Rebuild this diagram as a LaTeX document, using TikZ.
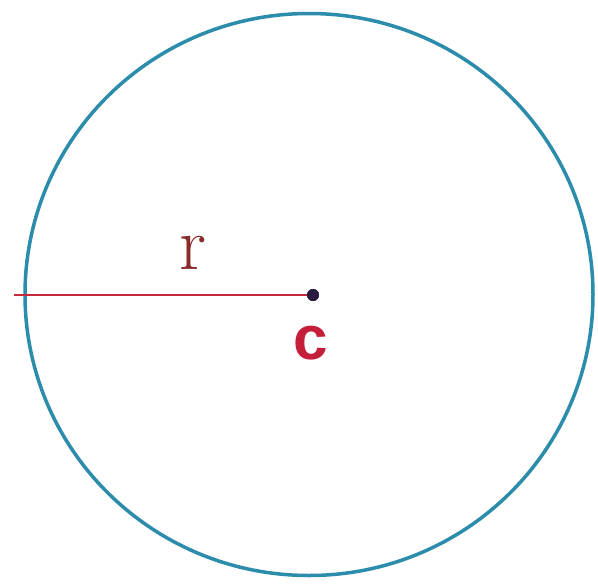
\documentclass[tikz,border=0pt]{standalone}
\usepackage{fontspec}
\newfontfamily\labelsans{Liberation Sans}
\definecolor{rim}{HTML}{2B8CAB}
\definecolor{radline}{HTML}{C8283C}
\definecolor{rlabel}{HTML}{8B2A2A}
\definecolor{clabel}{HTML}{C41E3A}
\definecolor{centerdot}{HTML}{2A1A40}
\tikzset{
  rimline/.style={draw=rim, line width=3.5pt},
  radius line/.style={draw=radline, line width=2.8pt},
  dotstyle/.style={circle, fill=centerdot, inner sep=0pt, minimum size=12pt},
  rtext/.style={text=rlabel, inner sep=0pt, font=\fontsize{76}{76}\selectfont},
  ctext/.style={text=clabel, inner sep=0pt, font=\labelsans\bfseries\fontsize{62}{62}\selectfont}
}
\begin{document}
\begin{tikzpicture}[x=1pt,y=-1pt]
\useasboundingbox (0,0) rectangle (598,584);
\fill[white] (0,0) rectangle (598,584);
\draw[rimline] (309,294.5) ellipse [x radius=284, y radius=281];
\coordinate (edge) at (14,295);
\node[dotstyle] (cen) at (313,295) {};
\draw[radius line] (edge) -- (cen.center);
\node[dotstyle] at (313,295) {};
\node[rtext] (r) at (193,253) {r};
\node[ctext] (c) at (311,343) {c};
\end{tikzpicture}
\end{document}
